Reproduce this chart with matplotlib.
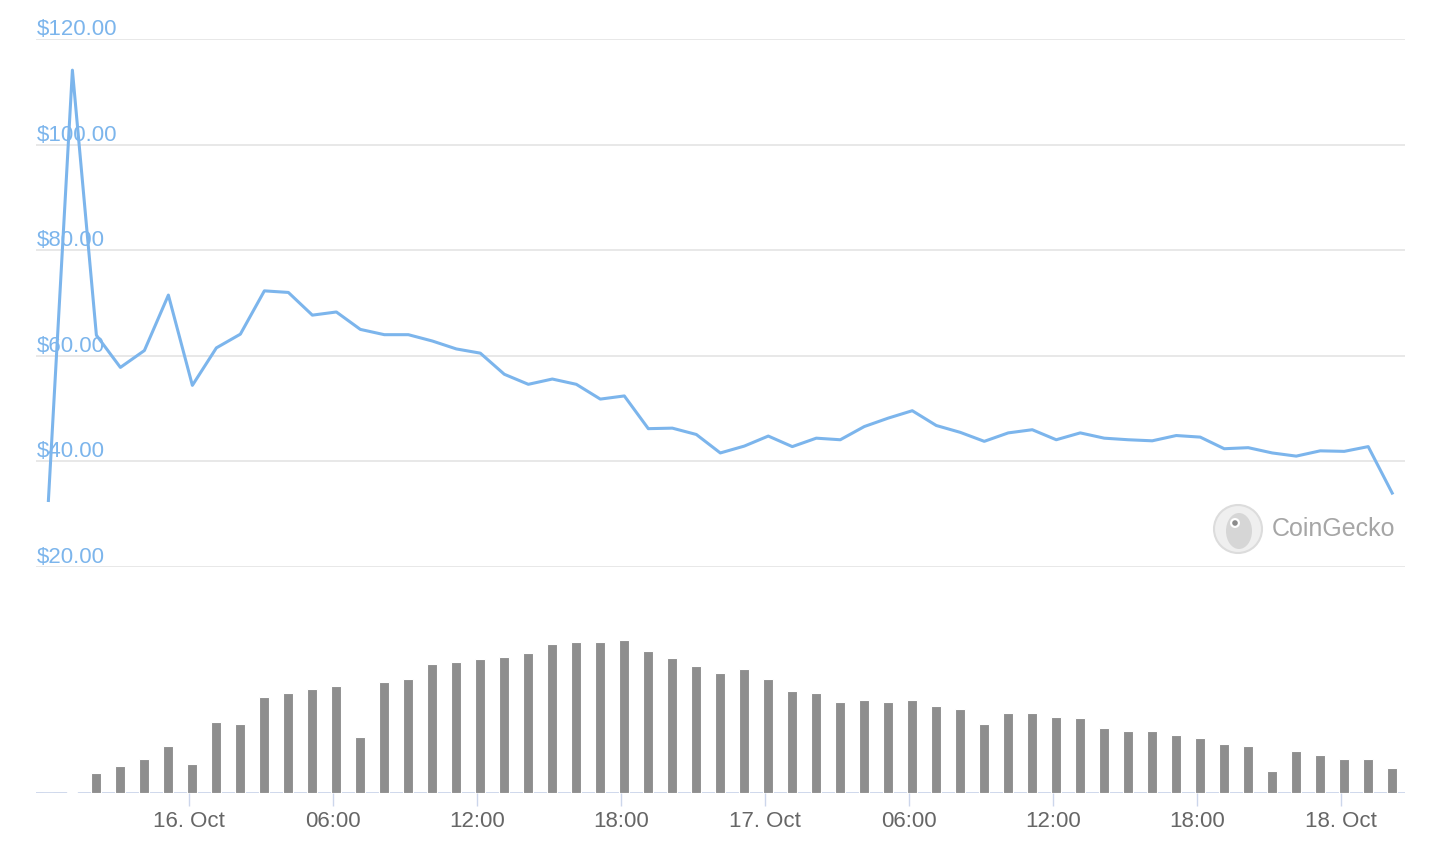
import pandas as pd
import matplotlib.pyplot as plt
from matplotlib.patches import Circle, Ellipse

plt.rcParams['font.family'] = ['Liberation Sans', 'DejaVu Sans']

# hourly samples, first one at 15 Oct 18:09
times = pd.date_range('2023-10-15 18:09', periods=57, freq='h')

price = [32.6, 114.1, 63.9, 57.8, 61.0, 71.5, 54.4, 61.5, 64.1, 72.3,
         72.0, 67.7, 68.3, 65.0, 64.0, 64.0, 62.8, 61.3, 60.5, 56.5,
         54.6, 55.6, 54.6, 51.8, 52.4, 46.2, 46.3, 45.1, 41.6, 42.9,
         44.8, 42.8, 44.4, 44.1, 46.6, 48.2, 49.6, 46.8, 45.5, 43.8,
         45.4, 46.0, 44.1, 45.4, 44.4, 44.1, 43.9, 44.9, 44.6, 42.4,
         42.6, 41.6, 41.0, 42.0, 41.9, 42.8, 34.0]

# volume (relative units, no axis shown)
volume = [0, 2, 60, 82, 103, 142, 87, 213, 207, 289,
          300, 311, 322, 169, 333, 343, 387, 393, 403, 409,
          420, 448, 453, 453, 458, 425, 404, 382, 360, 371,
          343, 306, 300, 273, 279, 273, 279, 262, 252, 207,
          240, 240, 229, 224, 196, 185, 185, 174, 164, 147,
          142, 66, 125, 114, 103, 103, 76]

tick_times = pd.date_range('2023-10-16 00:00', periods=9, freq='6h')
tick_labels = ['16. Oct', '06:00', '12:00', '18:00', '17. Oct',
               '06:00', '12:00', '18:00', '18. Oct']

price_ticks = [20, 40, 60, 80, 100, 120]

W, H = 1454, 844
fig = plt.figure(figsize=(W / 100, H / 100), dpi=100)

left, right = 36 / W, 1405 / W
ax = fig.add_axes([left, 1 - 567 / H, right - left, (567 - 39) / H])
axv = fig.add_axes([left, 1 - 793 / H, right - left, (793 - 567) / H], sharex=ax)

x0 = pd.Timestamp('2023-10-15 17:38')
x1 = pd.Timestamp('2023-10-18 02:41')

# price panel
ax.set_ylim(20, 120)
ax.set_xlim(x0, x1)
for v in price_ticks:
    ax.axhline(v, color='#e6e6e6', lw=1.3, zorder=0)
    ax.annotate(f'${v:.2f}', xy=(0, v), xycoords=('axes fraction', 'data'),
                xytext=(1, 4), textcoords='offset pixels',
                color='#7cb5ec', fontsize=16, va='baseline', ha='left', zorder=1)
ax.plot(times, price, color='#7cb5ec', lw=2.2, zorder=3, solid_joinstyle='round')
for s in ax.spines.values():
    s.set_visible(False)
ax.tick_params(axis='x', length=0, labelbottom=False)
ax.set_yticks([])
ax.patch.set_alpha(0)

# watermark (positions in inches on the figure)
tr = fig.dpi_scale_trans
cx, cy = 12.38, (H - 529) / 100
fig.patches.append(Circle((cx, cy), 0.24, transform=tr, facecolor='#efefef',
                          edgecolor='#dcdcdc', lw=1.5, zorder=1))
fig.patches.append(Ellipse((cx + 0.01, cy - 0.02), 0.26, 0.36, transform=tr,
                           facecolor='#d6d6d6', edgecolor='none', zorder=2))
fig.patches.append(Circle((cx - 0.03, cy + 0.06), 0.05, transform=tr,
                          facecolor='white', edgecolor='none', zorder=3))
fig.patches.append(Circle((cx - 0.03, cy + 0.06), 0.028, transform=tr,
                          facecolor='#8c8c8c', edgecolor='none', zorder=4))
fig.text(1272 / W, 1 - 529 / H, 'CoinGecko', color='#a6a6a6', fontsize=18,
         va='center', ha='left')

# volume panel
axv.bar(times, volume, width=0.42 / 24, color='#8e8e8e', edgecolor='white',
        linewidth=0.8, zorder=3)
axv.axhline(0, color='#ccd6eb', lw=1.3, zorder=2)
axv.set_ylim(0, 678)
axv.set_xlim(x0, x1)
for s in axv.spines.values():
    s.set_visible(False)
axv.set_yticks([])
axv.set_xticks(tick_times)
axv.set_xticklabels(tick_labels)
axv.tick_params(axis='x', length=9, width=1, color='#ccd6eb', pad=4,
                labelsize=16, labelcolor='#666666')
axv.patch.set_alpha(0)

fig.savefig('out.png', dpi=100, facecolor='white')
